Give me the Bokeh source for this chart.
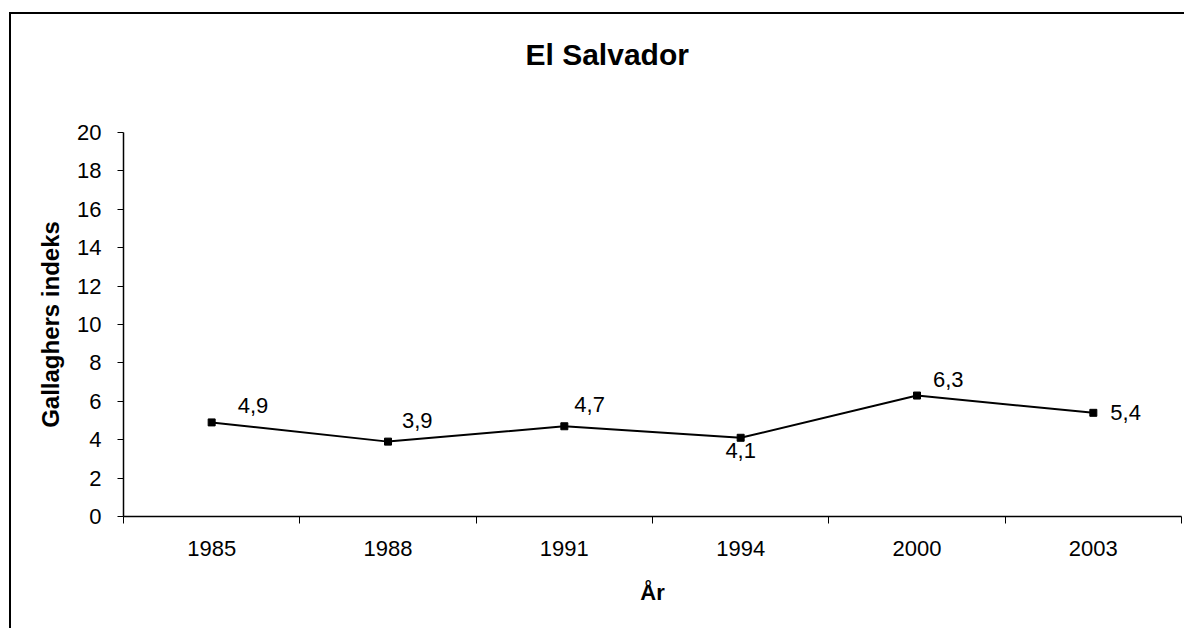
from bokeh.plotting import figure
from bokeh.models import ColumnDataSource, FixedTicker, Range1d, Title
from bokeh.core.properties import value
from bokeh.embed import file_html
from bokeh.resources import INLINE

# ---- data ----
years = ["1985", "1988", "1991", "1994", "2000", "2003"]
gallagher = [4.9, 3.9, 4.7, 4.1, 6.3, 5.4]
value_labels = ["4,9", "3,9", "4,7", "4,1", "6,3", "5,4"]
y_ticks = [0, 2, 4, 6, 8, 10, 12, 14, 16, 18, 20]
title_text = "El Salvador"

# label placement (screen px) — styling, not data
lab_dx = [26, 14, 10, 0, 16, 17]
lab_dy = [-17, -21, -22, 13, -16, 0]
lab_align = ["left", "left", "left", "center", "left", "left"]

FONT = "Liberation Sans"

xs = [i + 0.5 for i in range(len(years))]

p = figure(width=1175, height=616, output_backend="svg", toolbar_location=None,
           x_range=Range1d(0, len(years)), y_range=Range1d(0, y_ticks[-1]),
           min_border_left=112, min_border_right=5, min_border_top=118,
           min_border_bottom=114)
p.styles = {"border-top": "2px solid #000", "border-left": "2px solid #000",
            "margin-top": "12px", "margin-left": "9px"}
p.outline_line_color = None
p.background_fill_color = "white"
p.border_fill_color = "white"
p.grid.visible = False

# invisible spacer between frame and title
spacer = Title(text=" ", text_font_size="1px", standoff=59)
p.add_layout(spacer, "above")
t = Title(text=title_text, text_font=FONT, text_font_size="30px",
          text_font_style="bold", text_color="black", align="left",
          offset=402, standoff=0)
p.add_layout(t, "above")

# x axis
p.xaxis.ticker = FixedTicker(ticks=xs, minor_ticks=list(range(len(years) + 1)))
p.xaxis.major_label_overrides = {x: y for x, y in zip(xs, years)}
p.xaxis.major_tick_out = 0
p.xaxis.major_tick_in = 0
p.xaxis.minor_tick_out = 7
p.xaxis.minor_tick_in = 0
p.xaxis.minor_tick_line_color = "black"
p.xaxis.major_label_standoff = 17
p.xaxis.axis_label = "År"
p.xaxis.axis_label_standoff = 21
p.xaxis.axis_label_text_font_size = "22px"

# y axis
p.yaxis.ticker = FixedTicker(ticks=y_ticks, minor_ticks=[])
p.yaxis.major_tick_out = 6
p.yaxis.major_tick_in = 0
p.yaxis.major_label_standoff = 16
p.yaxis.axis_label = "Gallaghers indeks"
p.yaxis.axis_label_standoff = 10
p.yaxis.axis_label_text_font_size = "24px"

for ax in (p.xaxis, p.yaxis):
    ax.axis_line_color = "black"
    ax.axis_line_width = 1.5
    ax.major_tick_line_color = "black"
    ax.major_label_text_font = FONT
    ax.major_label_text_font_size = "22px"
    ax.major_label_text_color = "black"
    ax.axis_label_text_font = FONT
    ax.axis_label_text_font_style = "bold"
    ax.axis_label_text_color = "black"

src = ColumnDataSource(dict(x=xs, y=gallagher, lab=value_labels,
                            dx=lab_dx, dy=lab_dy, al=lab_align))
p.line("x", "y", source=src, line_color="black", line_width=2)
p.scatter("x", "y", source=src, marker="square", size=7, color="black")
p.text("x", "y", text="lab", source=src, x_offset="dx", y_offset="dy",
       text_align="al", text_baseline="middle", text_font=value(FONT),
       text_font_size="22px", text_color="black")

open("out.html", "w").write(file_html(p, INLINE))
